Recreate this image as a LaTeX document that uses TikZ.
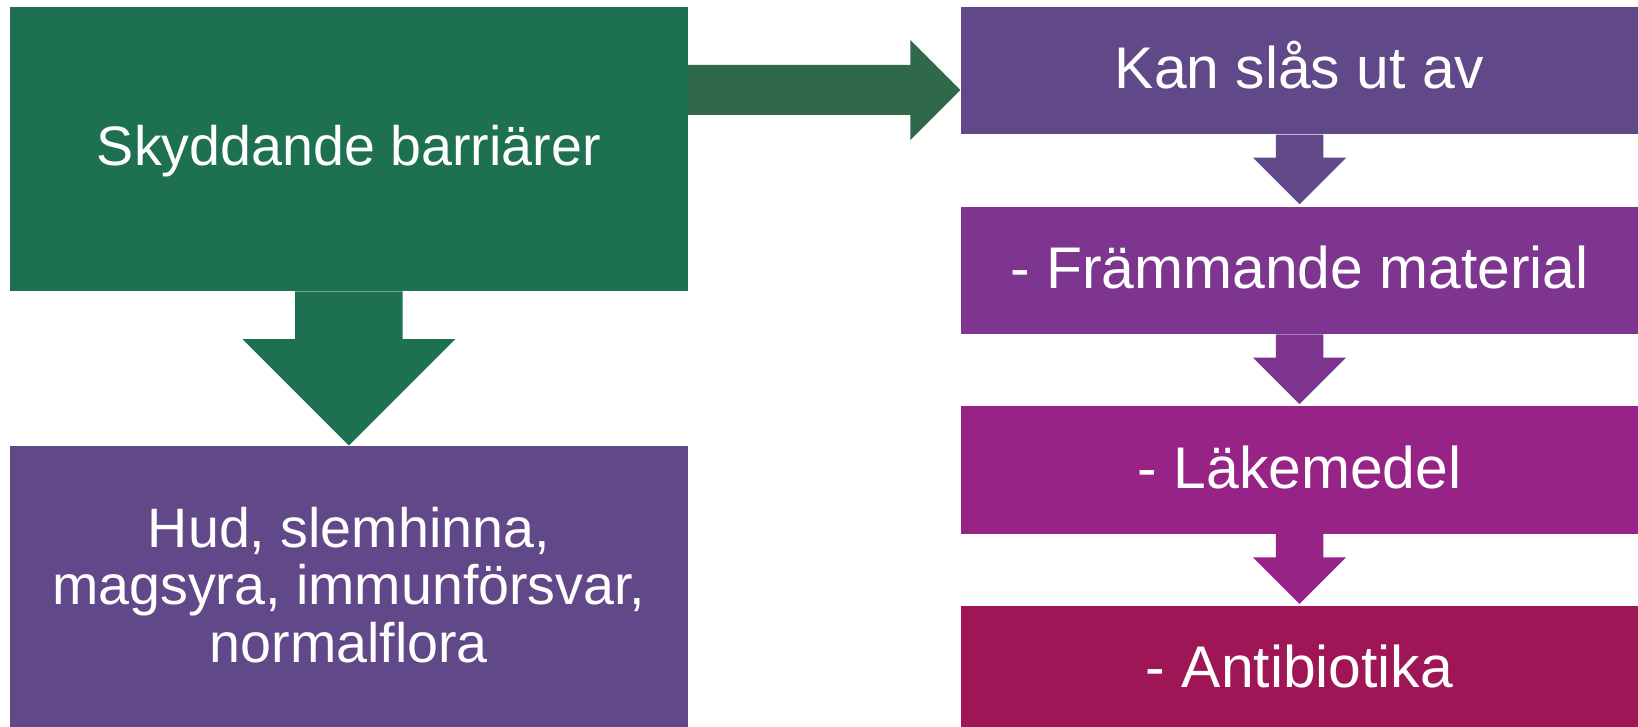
\documentclass[tikz,border=0pt]{standalone}
\usepackage{fontspec}
\setmainfont{Liberation Sans}
\usepackage{tikz}
\usetikzlibrary{positioning,calc}

\definecolor{bargreen}{HTML}{1E7150}
\definecolor{linkgreen}{HTML}{30684A}
\definecolor{kanpurple}{HTML}{614889}
\definecolor{frampurple}{HTML}{7D358F}
\definecolor{lakepurple}{HTML}{972387}
\definecolor{antired}{HTML}{9F1657}

\tikzset{
  box/.style={rectangle, inner sep=0pt, minimum width=338.8pt, text=white, align=center},
  bigbox/.style={box, minimum height=142.15pt, font=\fontsize{27.8pt}{28.75pt}\selectfont},
  smallbox/.style={box, minimum height=63.75pt, text height=23.3pt, text depth=5.35pt, font=\fontsize{29.4pt}{30pt}\selectfont}
}

\begin{document}
\begin{tikzpicture}
  \useasboundingbox (0,0) rectangle (819pt,-363.5pt);
  \fill[white] (0,0) rectangle (819pt,-363.5pt);

  \node[bigbox, fill=bargreen, text height=22pt, text depth=5.05pt] (bar) at (174.43pt,-74.43pt) {Skyddande barriärer};
  \node[bigbox, fill=kanpurple, below=77pt of bar] (flora) {Hud, slemhinna,\\ magsyra, immunförsvar,\\ normalflora\rule[-3.4pt]{0pt}{0pt}};

  \node[smallbox, fill=kanpurple, anchor=north west] (kan) at ([xshift=136.15pt]bar.north east) {Kan slås ut av};
  \node[smallbox, fill=frampurple, below=35.75pt of kan] (fram) {- Främmande material};
  \node[smallbox, fill=lakepurple, below=35.75pt of fram] (lake) {- Läkemedel};
  \node[smallbox, fill=antired, below=35.75pt of lake] (anti) {- Antibiotika};

  \fill[bargreen] ($(bar.south)+(-26.9pt,0)$) |- ($(flora.north)+(-53.2pt,53.15pt)$) -- (flora.north) -- ($(flora.north)+(53.2pt,53.15pt)$) -| ($(bar.south)+(26.9pt,0)$) -- cycle;

  \coordinate (tip) at ($(kan.west)+(0,-9.75pt)$);
  \fill[linkgreen] ($(bar.east |- tip)+(0,12.5pt)$) -| ($(tip)+(-25pt,25pt)$) -- (tip) -- ($(tip)+(-25pt,-25pt)$) |- ($(bar.east |- tip)+(0,-12.5pt)$) -- cycle;

  \fill[kanpurple] ($(kan.south)+(-11.9pt,0)$) |- ($(fram.north)+(-23.3pt,24.2pt)$) -- ($(fram.north)+(0,0.9pt)$) -- ($(fram.north)+(23.3pt,24.2pt)$) -| ($(kan.south)+(11.9pt,0)$) -- cycle;
  \fill[frampurple] ($(fram.south)+(-11.9pt,0)$) |- ($(lake.north)+(-23.3pt,24.2pt)$) -- ($(lake.north)+(0,0.9pt)$) -- ($(lake.north)+(23.3pt,24.2pt)$) -| ($(fram.south)+(11.9pt,0)$) -- cycle;
  \fill[lakepurple] ($(lake.south)+(-11.9pt,0)$) |- ($(anti.north)+(-23.3pt,24.2pt)$) -- ($(anti.north)+(0,0.9pt)$) -- ($(anti.north)+(23.3pt,24.2pt)$) -| ($(lake.south)+(11.9pt,0)$) -- cycle;
\end{tikzpicture}
\end{document}
